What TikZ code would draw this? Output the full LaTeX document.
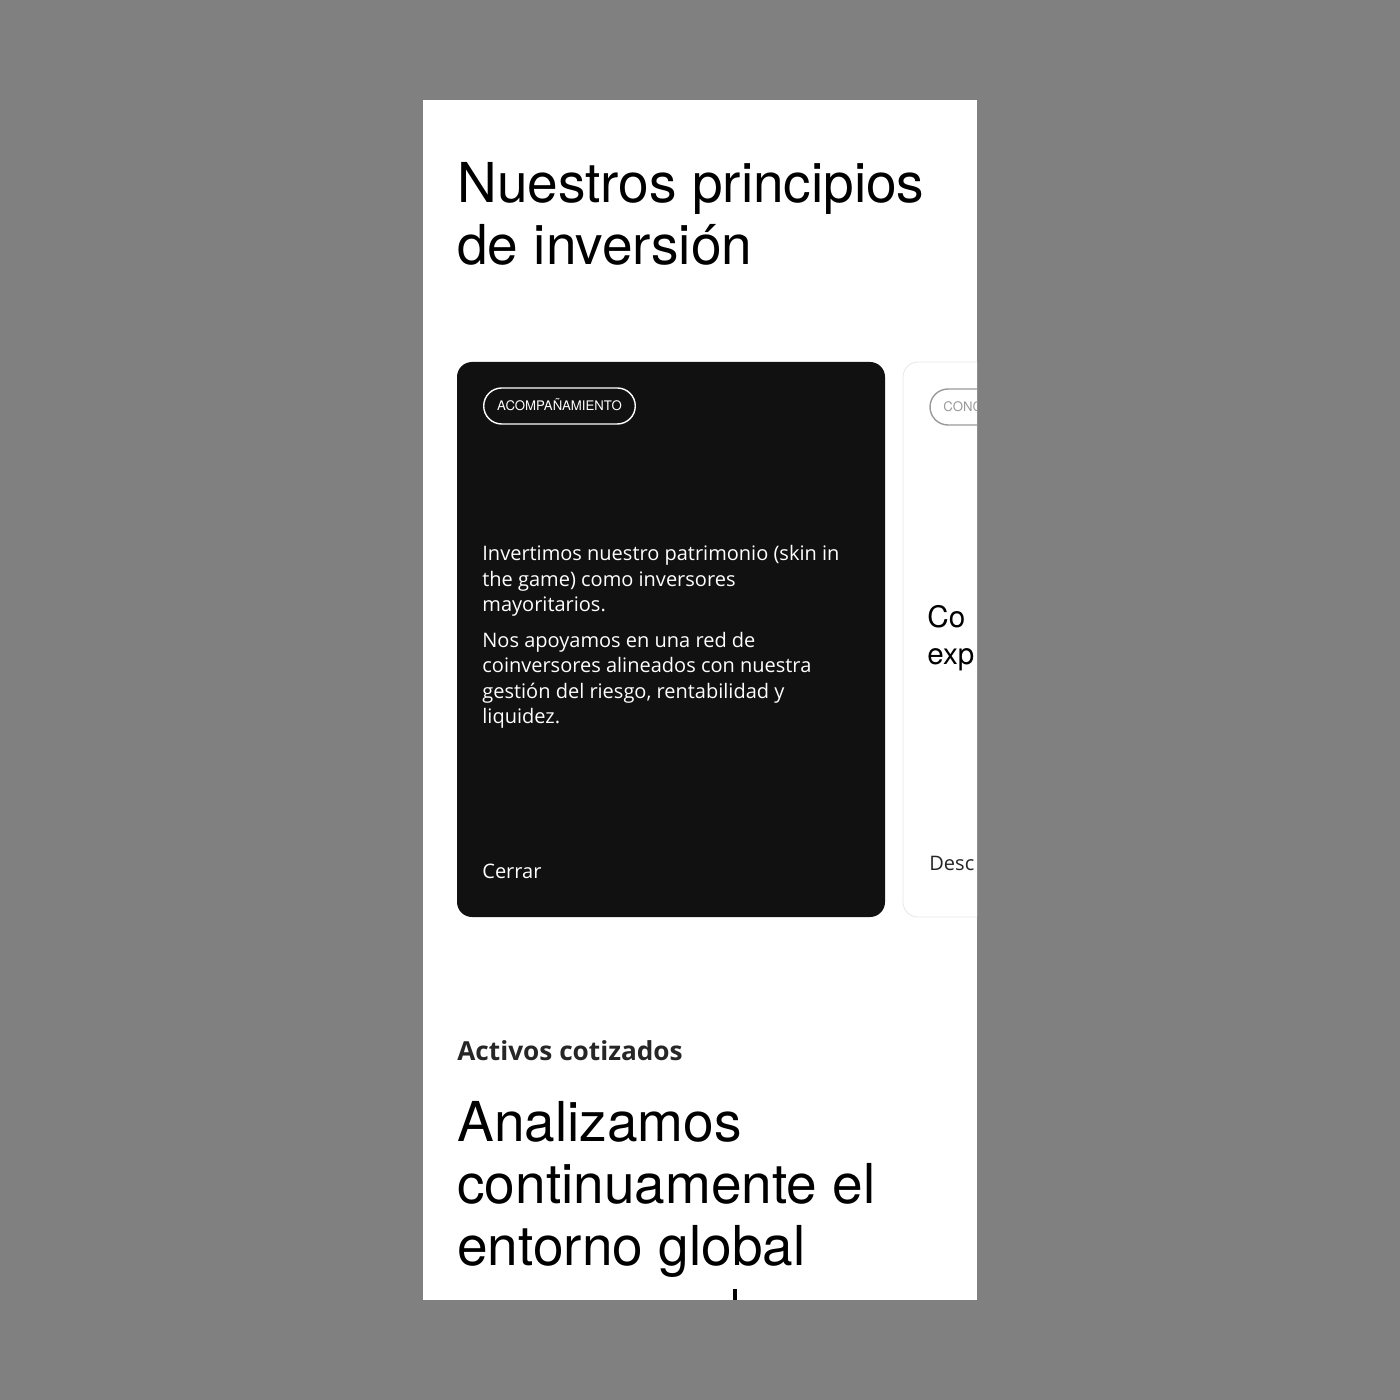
\documentclass[tikz,border=0pt]{standalone}
\usepackage{fontspec}
\setmainfont{TeX Gyre Heros}
\newfontfamily\cardfont{Open Sans}
\usetikzlibrary{positioning}
\definecolor{bggray}{HTML}{808080}
\definecolor{cardblack}{HTML}{111111}
\definecolor{cardline}{HTML}{E6E6EC}
\definecolor{tagline}{HTML}{9A9A9A}
\begin{document}
\begin{tikzpicture}[x=0.5pt,y=-0.5pt,
 txt/.style={inner sep=0pt, anchor=base west},
 ttl/.style={txt, font=\fontsize{27.5}{31}\selectfont},
 body/.style={txt, text=white, font=\cardfont\fontsize{10}{12.8}\selectfont},
 tag/.style={draw, rounded corners=9pt, line width=0.7pt, minimum height=18pt, inner xsep=6.75pt, inner ysep=0pt,
   text height=4.74pt, text depth=0pt, font=\fontsize{6.6}{8}\selectfont, anchor=west}]
\fill[bggray] (0,0) rectangle (1400,1400);
\fill[white] (423,100) rectangle (977,1300);
\begin{scope}
\clip (423,100) rectangle (977,1300);
% heading
\node[ttl] (head1) at (457,203) {Nuestros principios};
\node[ttl] (head2) at (457,265) {de inversión};
% open card
\fill[cardblack, rounded corners=7.5pt] (457,362) rectangle (885,917);
\node[tag, draw=white, text=white] (tag1) at (483,406) {ACOMPAÑAMIENTO};
\foreach \t [count=\i] in {Invertimos nuestro patrimonio (skin in, the game) como inversores, mayoritarios.}
 {\node[body] (para1\i) at (482,535+25.5*\i) {\t};}
\foreach \t [count=\i] in {Nos apoyamos en una red de, coinversores alineados con nuestra, {gestión del riesgo, rentabilidad y}, liquidez.}
 {\node[body] (para2\i) at (482,621.5+25.5*\i) {\t};}
\node[body] (close) at (482,878) {Cerrar};
% next card
\draw[cardline, fill=white, rounded corners=7.5pt] (903,362) rectangle (1330,917);
\draw[tagline, line width=0.7pt, rounded corners=9pt] (930,389) rectangle (1090,425);
\node[txt, anchor=west, text=tagline, font=\fontsize{6.6}{8}\selectfont, text height=4.74pt, text depth=0pt] (tag2) at (943,407) {CONC};
\node[txt, font=\fontsize{14.8}{16}\selectfont] (next1) at (927,627) {Co};
\node[txt, font=\fontsize{14.8}{16}\selectfont] (next2) at (927,664) {exp};
\node[body, text=black!85] (open) at (929,870) {Desc};
% section below
\node[txt, text=black!85, font=\cardfont\bfseries\fontsize{13.1}{14}\selectfont] (section) at (457,1060) {Activos cotizados};
\foreach \t [count=\i] in {Analizamos, continuamente el, entorno global}
 {\node[ttl] (lead\i) at (457,1079+62*\i) {\t};}
\fill (733,1289) rectangle (737,1300);
\end{scope}
\end{tikzpicture}
\end{document}
